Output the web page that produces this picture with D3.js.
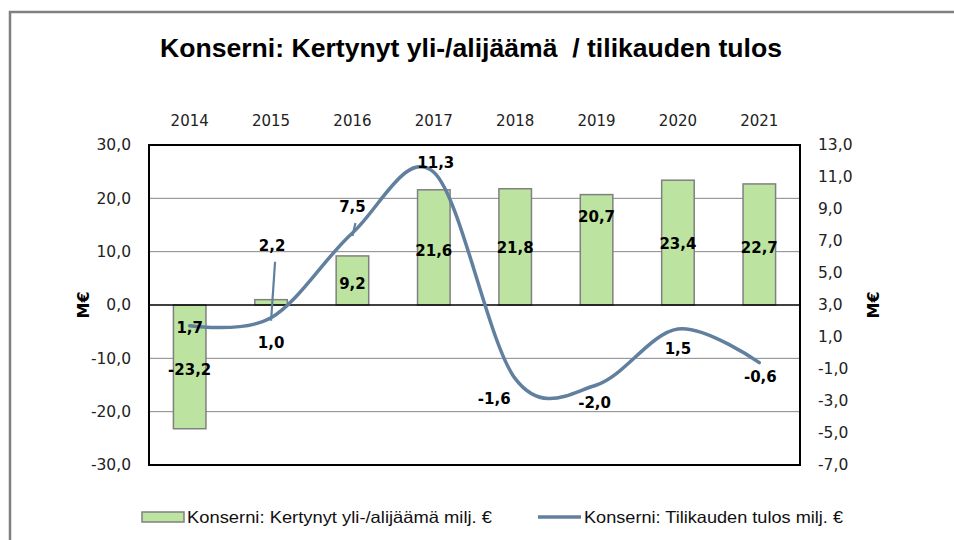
<!DOCTYPE html>
<html>
<head>
<meta charset="utf-8">
<script src="https://cdn.jsdelivr.net/npm/d3@7"></script>
<style>
  html, body { margin: 0; background: #fff; overflow: hidden; }
  svg { display: block; }
  text { font-family: "DejaVu Sans", sans-serif; }
</style>
</head>
<body>
<svg id="chart" width="954" height="540"></svg>
<script>
// data
var years = ["2014", "2015", "2016", "2017", "2018", "2019", "2020", "2021"];
var kertynyt = [-23.2, 1.0, 9.2, 21.6, 21.8, 20.7, 23.4, 22.7];   // bars, left axis
var tulos = [1.7, 2.2, 7.5, 11.3, -1.6, -2.0, 1.5, -0.6];          // line, right axis
var leftTicks = [-30, -20, -10, 0, 10, 20, 30];
var rightTicks = [-7, -5, -3, -1, 1, 3, 5, 7, 9, 11, 13];
var seriesNames = ["Konserni: Kertynyt yli-/alijäämä milj. €", "Konserni: Tilikauden tulos milj. €"];

// label nudges (pixels), as placed in the original
var barLabelDy = [3, 40, 3, 3, 1, -33, 1, 3];
var lineLabelDx = [0, 1, 0, 2, -21, -2, 0, 1];
var lineLabelDy = [2, -72, -26, -9, 20, 18, 20, 14];
var leader = [false, true, true, false, false, false, false, false];

function main() {
  var fi = d3.formatLocale({decimal: ",", thousands: " ", grouping: [3], currency: ["", "€"], minus: "-"});
  var f1 = fi.format(".1f");

  var svg = d3.select("#chart");
  var pLeft = 149, pRight = 800, pTop = 145, pBottom = 465;

  // outer frame: only top and left edges show in the picture
  svg.append("path").attr("d", "M10,540V12H954")
    .attr("fill", "none").attr("stroke", "#808080").attr("stroke-width", 2.5);

  svg.append("text").attr("x", 471).attr("y", 57).attr("text-anchor", "middle")
    .style("font-family", "'Liberation Sans Narrow', 'Liberation Sans', sans-serif")
    .style("font-weight", "bold").style("font-size", "26px").style("white-space", "pre")
    .attr("textLength", 622).attr("lengthAdjust", "spacingAndGlyphs")
    .text("Konserni: Kertynyt yli-/alijäämä  / tilikauden tulos");

  var x = d3.scaleBand().domain(years).range([pLeft, pRight]).paddingInner(0.6).paddingOuter(0.3);
  var yL = d3.scaleLinear().domain([-30, 30]).range([pBottom, pTop]);
  var yR = d3.scaleLinear().domain([-7, 13]).range([pBottom, pTop]);
  var cx = function(i) { return x(years[i]) + x.bandwidth() / 2; };

  // gridlines
  svg.append("g").selectAll("line").data(leftTicks.filter(function(d) { return d != 0; }))
    .enter().append("line")
    .attr("x1", pLeft).attr("x2", pRight)
    .attr("y1", function(d) { return yL(d); }).attr("y2", function(d) { return yL(d); })
    .attr("stroke", "#868686").attr("stroke-width", 1);

  // bars
  svg.append("g").selectAll("rect").data(kertynyt).enter().append("rect")
    .attr("x", function(d, i) { return x(years[i]); })
    .attr("y", function(d) { return yL(Math.max(0, d)); })
    .attr("width", x.bandwidth())
    .attr("height", function(d) { return Math.abs(yL(d) - yL(0)); })
    .attr("fill", "#bce4a0").attr("stroke", "#808080").attr("stroke-width", 1.5);

  // zero line + plot frame
  svg.append("line").attr("x1", pLeft).attr("x2", pRight).attr("y1", yL(0)).attr("y2", yL(0))
    .attr("stroke", "#000").attr("stroke-width", 1.6);
  svg.append("rect").attr("x", pLeft).attr("y", pTop).attr("width", pRight - pLeft).attr("height", pBottom - pTop)
    .attr("fill", "none").attr("stroke", "#000").attr("stroke-width", 2);

  // axes
  var gl = svg.append("g").attr("transform", "translate(" + pLeft + ",0)")
    .call(d3.axisLeft(yL).tickValues(leftTicks).tickSize(0).tickPadding(18).tickFormat(f1));
  var gr = svg.append("g").attr("transform", "translate(" + pRight + ",0)")
    .call(d3.axisRight(yR).tickValues(rightTicks).tickSize(0).tickPadding(18).tickFormat(f1));
  var gt = svg.append("g").attr("transform", "translate(0," + (pTop - 19) + ")")
    .call(d3.axisTop(x).tickSize(0).tickPadding(0));
  [gl, gr, gt].forEach(function(g) {
    g.select(".domain").remove();
    g.selectAll("text").style("font-family", "'DejaVu Sans', sans-serif")
      .style("font-size", "15.5px").attr("fill", "#222");
  });
  gt.selectAll("text").style("font-size", "15px");

  // axis titles
  [83, 873].forEach(function(tx) {
    svg.append("text").attr("transform", "translate(" + tx + "," + yL(0) + ") rotate(-90)")
      .attr("text-anchor", "middle").attr("dy", "0.35em")
      .style("font-weight", "bold").style("font-size", "16px").text("M€");
  });

  // bar labels
  svg.append("g").selectAll("text").data(kertynyt).enter().append("text")
    .attr("x", function(d, i) { return cx(i); })
    .attr("y", function(d, i) { return (yL(d) + yL(0)) / 2 + barLabelDy[i]; })
    .attr("dy", "0.35em").attr("text-anchor", "middle")
    .style("font-weight", "bold").style("font-size", "15px")
    .text(function(d) { return f1(d); });

  // line (smoothed like the original)
  var line = d3.line()
    .x(function(d, i) { return cx(i); })
    .y(function(d) { return yR(d); })
    .curve(d3.curveCardinal.tension(0));
  svg.append("path").datum(tulos).attr("d", line)
    .attr("fill", "none").attr("stroke", "#617f9e").attr("stroke-width", 3.5)
    .attr("stroke-linecap", "round");

  // leader lines
  var idx = tulos.map(function(d, i) { return i; }).filter(function(i) { return leader[i]; });
  svg.append("g").selectAll("line").data(idx).enter().append("line")
    .attr("x1", function(i) { return cx(i) + lineLabelDx[i] + 3; })
    .attr("y1", function(i) { return yR(tulos[i]) + lineLabelDy[i] + 16; })
    .attr("x2", function(i) { return cx(i); })
    .attr("y2", function(i) { return yR(tulos[i]) + 3; })
    .attr("stroke", "#617f9e").attr("stroke-width", 2.2);

  // line labels
  svg.append("g").selectAll("text").data(tulos).enter().append("text")
    .attr("x", function(d, i) { return cx(i) + lineLabelDx[i]; })
    .attr("y", function(d, i) { return yR(d) + lineLabelDy[i]; })
    .attr("dy", "0.35em").attr("text-anchor", "middle")
    .style("font-weight", "bold").style("font-size", "15px")
    .text(function(d) { return f1(d); });

  // legend
  var lg = svg.append("g");
  lg.append("rect").attr("x", 142).attr("y", 512).attr("width", 42).attr("height", 10)
    .attr("fill", "#bce4a0").attr("stroke", "#808080").attr("stroke-width", 1.5);
  lg.append("line").attr("x1", 538).attr("x2", 581).attr("y1", 517).attr("y2", 517)
    .attr("stroke", "#617f9e").attr("stroke-width", 3.5);
  lg.selectAll("text").data(seriesNames).enter().append("text")
    .attr("x", function(d, i) { return i == 0 ? 187 : 584; })
    .attr("y", 517).attr("dy", "0.35em")
    .attr("textLength", function(d, i) { return i == 0 ? 305 : 259; })
    .attr("lengthAdjust", "spacingAndGlyphs")
    .style("font-family", "'Liberation Sans Narrow', 'Liberation Sans', sans-serif")
    .style("font-size", "16.5px").attr("fill", "#111")
    .text(function(d) { return d; });
}

main();
</script>
</body>
</html>
